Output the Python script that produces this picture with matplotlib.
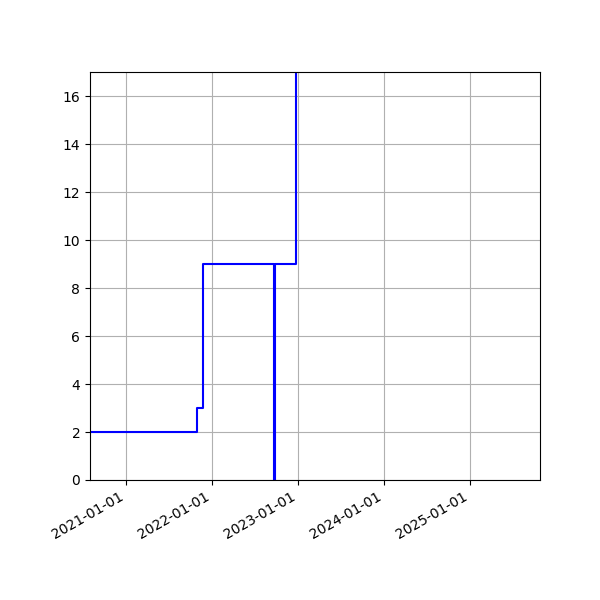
import numpy as np
import pandas as pd
import matplotlib
matplotlib.use('Agg')
import matplotlib.pyplot as plt
import matplotlib.dates as mdates

# step data
dates = pd.to_datetime(['2020-06-01', '2021-10-31', '2021-11-25', '2022-09-22',
                        '2022-09-27', '2022-12-23', '2023-03-01'])
counts = [2, 3, 9, 0, 9, 25, 25]

fig, ax = plt.subplots(figsize=(6, 6), dpi=100)
ax.plot(dates, counts, color='blue', drawstyle='steps-post')

ax.set_xlim(pd.Timestamp('2020-08-01'), pd.Timestamp('2025-10-25'))
ax.set_ylim(0, 17)
ax.xaxis.set_major_locator(mdates.YearLocator())
ax.xaxis.set_major_formatter(mdates.DateFormatter('%Y-%m-%d'))
ax.grid(True)
fig.autofmt_xdate()
fig.subplots_adjust(left=0.15)

plt.savefig('out.png')
